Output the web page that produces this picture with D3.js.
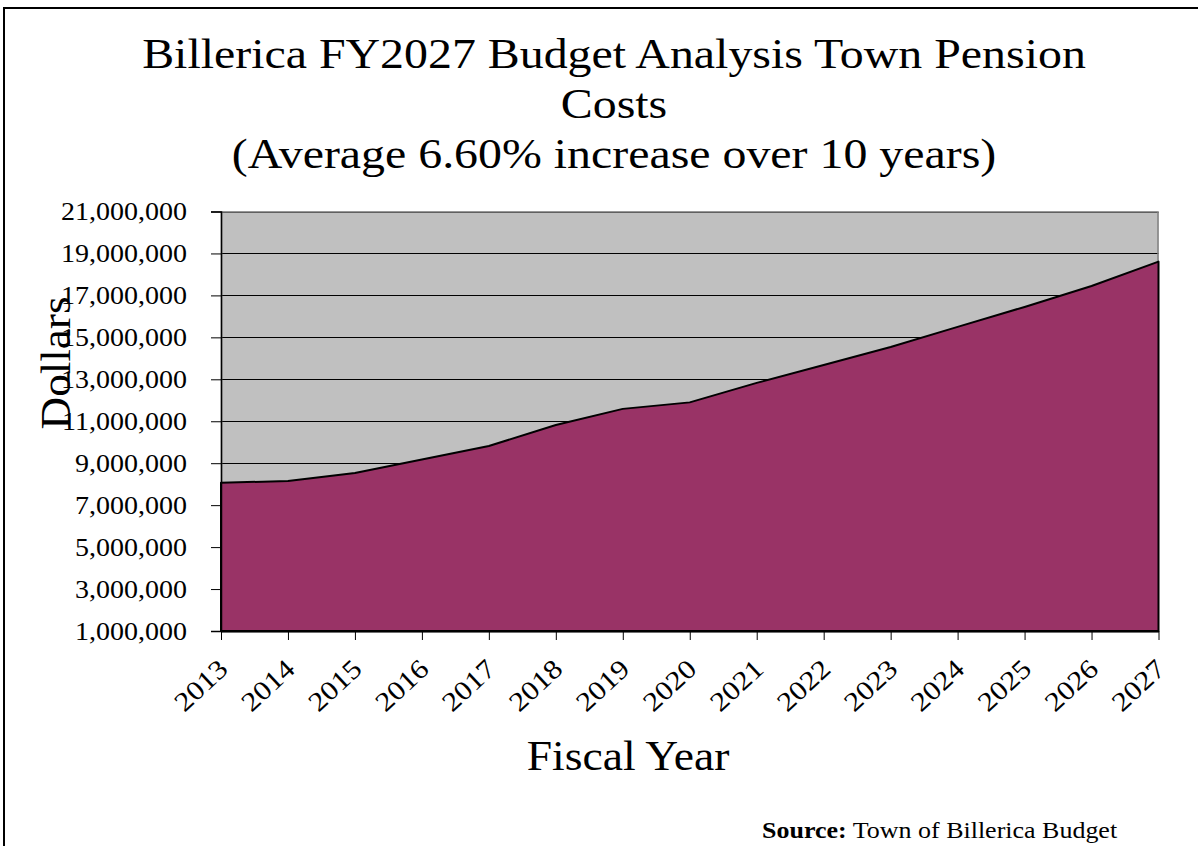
<!DOCTYPE html>
<html>
<head>
<meta charset="utf-8">
<script src="https://cdn.jsdelivr.net/npm/d3@7"></script>
<style>
  html, body { margin: 0; padding: 0; background: #ffffff; }
  svg { display: block; }
  text { font-family: "Liberation Serif", "Times New Roman", serif; fill: #000; }
</style>
</head>
<body>
<svg id="chart" width="1198" height="846"></svg>
<script>
const years = ["2013","2014","2015","2016","2017","2018","2019","2020","2021","2022","2023","2024","2025","2026","2027"];
const pensionCosts = [8070000, 8150000, 8530000, 9180000, 9820000, 10820000, 11590000, 11900000, 12830000, 13680000, 14540000, 15500000, 16450000, 17450000, 18610000];
const yTicks = [1000000, 3000000, 5000000, 7000000, 9000000, 11000000, 13000000, 15000000, 17000000, 19000000, 21000000];
const titleLines = ["Billerica FY2027 Budget Analysis Town Pension", "Costs", "(Average 6.60% increase over 10 years)"];
const xTitle = "Fiscal Year";
const yTitle = "Dollars";
const sourceBold = "Source:";
const sourceText = " Town of Billerica Budget";

const svg = d3.select("#chart");
const W = 1198, H = 846;
const plot = {left: 221, right: 1158.5, top: 211.5, bottom: 631};

// outer frame
svg.append("rect").attr("x", 4).attr("y", 8).attr("width", W + 10).attr("height", H + 10)
  .attr("fill", "#fff").attr("stroke", "#000").attr("stroke-width", 2);

const x = d3.scalePoint().domain(years).range([plot.left, plot.right]);
const y = d3.scaleLinear().domain([1000000, 21000000]).range([plot.bottom, plot.top]);

// plot background
svg.append("rect").attr("x", plot.left).attr("y", plot.top)
  .attr("width", plot.right - plot.left).attr("height", plot.bottom - plot.top)
  .attr("fill", "#c0c0c0");

// gridlines
svg.append("g").selectAll("line").data(yTicks.slice(1)).join("line")
  .attr("x1", plot.left).attr("x2", plot.right)
  .attr("y1", d => Math.round(y(d)) + 0.5).attr("y2", d => Math.round(y(d)) + 0.5)
  .attr("stroke", "#000").attr("stroke-width", 1);

// plot border (gray)
svg.append("rect").attr("x", plot.left + 0.5).attr("y", plot.top + 0.5)
  .attr("width", plot.right - plot.left - 1).attr("height", plot.bottom - plot.top)
  .attr("fill", "none").attr("stroke", "#808080").attr("stroke-width", 1.5);

const data = years.map((yr, i) => ({yr, v: pensionCosts[i]}));
const area = d3.area().x(d => x(d.yr)).y0(y(1000000)).y1(d => y(d.v));
svg.append("path").datum(data).attr("d", area)
  .attr("fill", "#993366").attr("stroke", "#000").attr("stroke-width", 2).attr("stroke-linejoin", "round");

// y axis
const yAxis = d3.axisLeft(y).tickValues(yTicks).tickSize(10).tickFormat(d3.format(","));
const gy = svg.append("g").attr("transform", `translate(${plot.left},0)`).call(yAxis);
gy.select(".domain").attr("stroke", "#000").attr("stroke-width", 1.5);
gy.selectAll(".tick line").attr("stroke", "#000");
gy.selectAll(".tick text").remove();
gy.selectAll(".tick").append("text")
  .attr("transform", "translate(-34,0) scale(1.12,1)")
  .attr("text-anchor", "end").attr("dy", "0.33em")
  .style("font-size", "25px")
  .text(d => d3.format(",")(d));

// x axis
const xAxis = d3.axisBottom(x).tickSize(9).tickSizeOuter(0);
const gx = svg.append("g").attr("transform", `translate(0,${plot.bottom})`).call(xAxis);
gx.select(".domain").attr("stroke", "#000").attr("stroke-width", 2);
gx.selectAll(".tick line").attr("stroke", "#000");
gx.selectAll(".tick text").remove();
gx.selectAll(".tick").append("text")
  .attr("transform", "translate(8,40) rotate(-43) scale(1.14,1)")
  .attr("text-anchor", "end")
  .style("font-size", "27px")
  .text(d => d);

// title
const tg = svg.append("g");
titleLines.forEach((t, i) => {
  tg.append("text")
    .attr("transform", `translate(614,${68 + i * 50}) scale(1.14,1)`)
    .attr("text-anchor", "middle").style("font-size", "42px").text(t);
});

// axis titles
svg.append("text").attr("transform", "translate(628,770) scale(1.086,1)")
  .attr("text-anchor", "middle").style("font-size", "42px").text(xTitle);
svg.append("text").attr("transform", "translate(70,363) rotate(-90) scale(1.076,1)")
  .attr("text-anchor", "middle").style("font-size", "42px").text(yTitle);

// source
const st = svg.append("text").attr("transform", "translate(762,838) scale(1.13,1)")
  .style("font-size", "23px");
st.append("tspan").style("font-weight", "bold").text(sourceBold);
st.append("tspan").text(sourceText);
</script>
</body>
</html>
